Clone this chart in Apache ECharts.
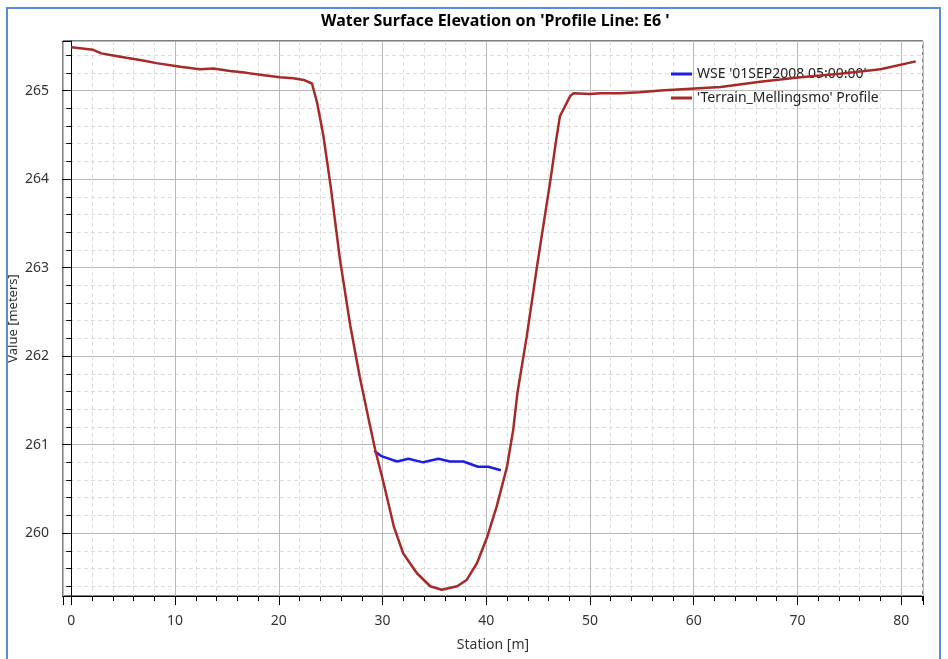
<!DOCTYPE html>
<html>
<head>
<meta charset="utf-8">
<title>Water Surface Elevation</title>
<script src="https://cdn.jsdelivr.net/npm/echarts@6/dist/echarts.min.js"></script>
<style>
  html, body { margin: 0; padding: 0; background: #fff; }
  #chart { position: absolute; left: 0; top: 0; width: 948px; height: 659px; }
  /* blue window frame around the plot */
  #frame {
    position: absolute; left: 6px; top: 7px; width: 935px; height: 700px;
    border: 2px solid #5b8bd9; box-sizing: border-box; pointer-events: none;
  }
</style>
</head>
<body>
<div id="chart"></div>
<div id="frame"></div>
<script>
// terrain profile (station in m, elevation in m)
const terrainStation = [
  0.0, 2.1, 2.9, 3.9, 5.3, 6.9, 8.2, 10.5, 12.4, 13.7,
  15.3, 16.9, 18.2, 20.1, 21.4, 22.4, 23.2, 23.7, 24.3, 25.0,
  25.9, 26.9, 27.8, 28.8, 29.3, 30.1, 31.1, 32.0, 33.3, 34.6,
  35.7, 37.2, 38.1, 39.1, 40.1, 41.0, 42.0, 42.6, 43.0, 43.9,
  44.9, 46.2, 46.7, 47.1, 48.1, 48.4, 50.0, 51.0, 52.9, 54.8,
  56.8, 59.7, 62.6, 66.4, 70.3, 74.1, 78.0, 81.4
];
const terrainElev = [
  265.49, 265.46, 265.42, 265.40, 265.37, 265.34, 265.31, 265.27, 265.24, 265.25,
  265.22, 265.20, 265.18, 265.15, 265.14, 265.12, 265.08, 264.86, 264.49, 263.92,
  263.09, 262.34, 261.77, 261.21, 260.94, 260.57, 260.07, 259.77, 259.55, 259.40,
  259.36, 259.40, 259.47, 259.66, 259.96, 260.30, 260.75, 261.17, 261.58, 262.22,
  263.02, 264.00, 264.41, 264.71, 264.94, 264.97, 264.96, 264.97, 264.97, 264.98,
  265.00, 265.02, 265.04, 265.10, 265.15, 265.19, 265.24, 265.33
];

// water surface
const wseStation = [29.2, 29.9, 31.4, 32.5, 33.9, 35.4, 36.5, 37.8, 39.2, 40.2, 41.4];
const wseElev = [260.93, 260.87, 260.81, 260.84, 260.80, 260.84, 260.81, 260.81, 260.75, 260.75, 260.71];

const seriesNames = ["WSE '01SEP2008 05:00:00'", "'Terrain_Mellingsmo' Profile"];

let font = 'Noto Sans';
let myChart = echarts.init(document.getElementById('chart'), null, { renderer: 'canvas' });

function pairs(xs, ys) {
  let out = [];
  for (let i = 0; i < xs.length; i++) out.push([xs[i], ys[i]]);
  return out;
}

// only label whole multiples of the major step
function majorLabel(step) {
  return function (v) {
    let k = Math.round(v / step);
    return Math.abs(v - k * step) < 1e-6 ? String(k * step) : '';
  };
}

let option = {
  animation: false,
  title: {
    text: "Water Surface Elevation on 'Profile Line: E6 '",
    left: 316,
    top: 8,
    textStyle: { fontFamily: font, fontSize: 16, fontWeight: 'bold', color: '#000' }
  },
  legend: {
    orient: 'vertical',
    left: 666,
    top: 62,
    itemWidth: 21,
    itemHeight: 3,
    itemGap: 10,
    icon: 'rect',
    z: 1,
    data: seriesNames,
    textStyle: { fontFamily: font, fontSize: 14, lineHeight: 14, color: '#222' }
  },
  grid: {
    left: 63, top: 41, right: 25, bottom: 63,
    containLabel: false,
    outerBoundsMode: 'none',
    show: true, borderColor: '#000', borderWidth: 1
  },
  xAxis: {
    type: 'value',
    min: -0.8, max: 82.1,
    minInterval: 10, maxInterval: 10,
    name: 'Station [m]',
    nameLocation: 'middle',
    nameGap: 42,
    nameMoveOverlap: false,
    nameTextStyle: { fontFamily: font, fontSize: 14, color: '#333' },
    axisLine: { show: true, lineStyle: { color: '#000' } },
    axisTick: { show: true, length: 9, lineStyle: { color: '#000' } },
    minorTick: { show: true, splitNumber: 5, length: 5, lineStyle: { color: '#000' } },
    axisLabel: { fontFamily: font, fontSize: 14, color: '#333', margin: 18, formatter: majorLabel(10) },
    splitLine: { show: true, lineStyle: { color: '#b8b8b8', width: 1 } },
    minorSplitLine: { show: true, lineStyle: { color: '#dcdcdc', type: [4, 3] } }
  },
  yAxis: {
    type: 'value',
    min: 259.29, max: 265.56,
    minInterval: 1, maxInterval: 1,
    name: 'Value [meters]',
    nameLocation: 'middle',
    nameRotate: 90,
    nameGap: 43,
    nameMoveOverlap: false,
    nameTextStyle: { fontFamily: font, fontSize: 13, color: '#333' },
    axisLine: { show: true, lineStyle: { color: '#000' } },
    axisTick: { show: true, length: 9, lineStyle: { color: '#000' } },
    minorTick: { show: true, splitNumber: 5, length: 5, lineStyle: { color: '#000' } },
    axisLabel: { fontFamily: font, fontSize: 14, color: '#333', margin: 14, formatter: majorLabel(1) },
    splitLine: { show: true, lineStyle: { color: '#b8b8b8', width: 1 } },
    minorSplitLine: { show: true, lineStyle: { color: '#dcdcdc', type: [4, 3] } }
  },
  series: [
    {
      name: seriesNames[0],
      type: 'line',
      symbol: 'none',
      z: 3,
      lineStyle: { color: '#1e1ee0', width: 2.5 },
      itemStyle: { color: '#1e1ee0' },
      data: pairs(wseStation, wseElev)
    },
    {
      name: seriesNames[1],
      type: 'line',
      symbol: 'none',
      z: 3,
      lineStyle: { color: '#a52a2a', width: 2.5 },
      itemStyle: { color: '#a52a2a' },
      data: pairs(terrainStation, terrainElev)
    }
  ]
};

myChart.setOption(option);
</script>
</body>
</html>
